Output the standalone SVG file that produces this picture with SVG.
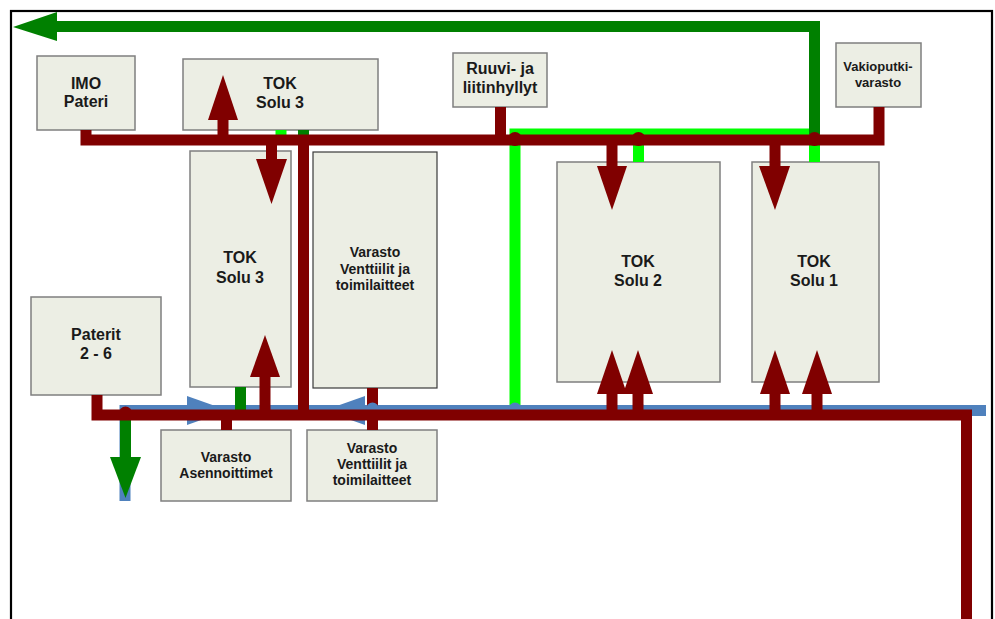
<svg xmlns="http://www.w3.org/2000/svg" width="995" height="619" viewBox="0 0 995 619">
<defs>
<style>
.box{fill:#eceee4;stroke:#7f7f7f;stroke-width:1.5}
.box2{fill:#eceee4;stroke:#3a3a3a;stroke-width:1.2}
text{font-family:"Liberation Sans",Arial,sans-serif;font-weight:bold;fill:#1a1a1a;text-anchor:middle}
.t16{font-size:16px}
.t14{font-size:14px}
.t13{font-size:13px}
.red{fill:none;stroke:#800000;stroke-width:11}
.redf{fill:#800000}
.grn{fill:none;stroke:#008000;stroke-width:11}
.grnf{fill:#008000}
.lg{fill:none;stroke:#00ff00;stroke-width:11}
.blu{fill:none;stroke:#4f81bd;stroke-width:11}
.bluf{fill:#4f81bd}
</style>
</defs>
<rect x="0" y="0" width="995" height="619" fill="#ffffff"/>
<rect x="11" y="11" width="981" height="620" fill="none" stroke="#000" stroke-width="2.2"/>

<g id="imo-pateri"><rect class="box" x="37" y="56" width="98" height="74"/><text class="t16" x="86" y="89">IMO</text><text class="t16" x="86" y="107">Pateri</text></g>
<g id="tok-solu3-top"><rect class="box" x="183" y="59" width="195" height="71"/><text class="t16" x="280" y="89">TOK</text><text class="t16" x="280" y="108">Solu 3</text></g>
<g id="ruuvi"><rect class="box" x="453" y="53" width="94" height="54"/><text class="t16" x="500" y="74">Ruuvi- ja</text><text class="t16" x="500" y="93">liitinhyllyt</text></g>
<g id="vakioputki"><rect class="box" x="836" y="43" width="85" height="64"/><text class="t13" x="878" y="71">Vakioputki-</text><text class="t13" x="878" y="87">varasto</text></g>
<g id="tok-solu3"><rect class="box" x="190" y="151" width="101" height="236"/><text class="t16" x="240" y="263">TOK</text><text class="t16" x="240" y="283">Solu 3</text></g>
<g id="varasto-venttiilit-top"><rect class="box2" x="313" y="152" width="124" height="236"/><text class="t14" x="375" y="257">Varasto</text><text class="t14" x="375" y="274">Venttiilit ja</text><text class="t14" x="375" y="290">toimilaitteet</text></g>
<g id="tok-solu2"><rect class="box" x="557" y="162" width="163" height="220"/><text class="t16" x="638" y="267">TOK</text><text class="t16" x="638" y="286">Solu 2</text></g>
<g id="tok-solu1"><rect class="box" x="752" y="162" width="127" height="220"/><text class="t16" x="814" y="267">TOK</text><text class="t16" x="814" y="286">Solu 1</text></g>
<g id="paterit"><rect class="box" x="31" y="297" width="130" height="98"/><text class="t16" x="96" y="340">Paterit</text><text class="t16" x="96" y="359">2 - 6</text></g>
<g id="varasto-asennoittimet"><rect class="box" x="161" y="430" width="130" height="71"/><text class="t14" x="226" y="462">Varasto</text><text class="t14" x="226" y="478">Asennoittimet</text></g>
<g id="varasto-venttiilit-bottom"><rect class="box" x="307" y="430" width="130" height="71"/><text class="t14" x="372" y="453">Varasto</text><text class="t14" x="372" y="469">Venttiilit ja</text><text class="t14" x="372" y="485">toimilaitteet</text></g>

<g id="connectors">
<!-- blue line -->
<path class="blu" d="M986 410.5 H125 V501"/>
<polygon class="bluf" points="187,396 228,410.5 187,425"/>
<polygon class="bluf" points="365,396 324,410.5 365,425"/>
<!-- light green -->
<path class="lg" d="M515 405 V134 H814.5 V162" stroke-linejoin="miter"/>
<path class="lg" d="M638.5 140 V162"/>
<path class="lg" d="M281 130 V140"/>
<!-- dark green -->
<path class="grn" d="M814.5 134 V26.5 H56" stroke-linejoin="miter"/>
<polygon class="grnf" points="57,12 13,27 57,41"/>
<path class="grn" d="M303.5 130 V140"/>
<path class="grn" d="M240.5 387 V415"/>
<path class="grn" d="M125.5 415 V458"/>
<polygon class="grnf" points="110,457 141,457 125.5,498"/>
<!-- red short connectors -->
<path class="red" d="M500.5 107 V140"/>
<path class="red" d="M226.5 415 V430"/>
<path class="red" d="M372.5 388 V430"/>
<!-- blue junction dots -->
<circle class="bluf" cx="372.5" cy="409" r="6.5"/>
<circle class="bluf" cx="515" cy="409" r="6.5"/>
<circle class="bluf" cx="638.5" cy="409" r="6.5"/>
<!-- red buses -->
<path class="red" d="M86 130 V140 H879 V107" stroke-width="12" stroke-linejoin="miter"/>
<path class="red" d="M97 395 V415 H966.5 V625" stroke-width="12" stroke-linejoin="miter"/>
<path class="red" d="M303.5 140 V415"/>
<!-- red arrows -->
<path class="red" d="M223 140 V118" stroke-width="10"/>
<polygon class="redf" points="208,120 238,120 223,75"/>
<path class="red" d="M271.5 140 V161" stroke-width="10"/>
<polygon class="redf" points="256,159 287,159 271.5,204"/>
<path class="red" d="M265 415 V375" stroke-width="10"/>
<polygon class="redf" points="250,377 280,377 265,335"/>
<path class="red" d="M612 140 V168" stroke-width="10"/>
<polygon class="redf" points="597,166 627,166 612,210"/>
<path class="red" d="M775 140 V168" stroke-width="10"/>
<polygon class="redf" points="759,166 790,166 775,210"/>
<path class="red" d="M612 415 V392" stroke-width="10"/>
<polygon class="redf" points="597,394 627,394 612,350"/>
<path class="red" d="M638 415 V392" stroke-width="10"/>
<polygon class="redf" points="623,394 653,394 638,350"/>
<path class="red" d="M775 415 V392" stroke-width="10"/>
<polygon class="redf" points="760,394 790,394 775,350"/>
<path class="red" d="M817 415 V392" stroke-width="10"/>
<polygon class="redf" points="802,394 832,394 817,350"/>
<!-- red junction dots -->
<circle class="redf" cx="515" cy="139" r="7"/>
<circle class="redf" cx="638.5" cy="139" r="7"/>
<circle class="redf" cx="814.5" cy="139" r="7"/>
<circle class="redf" cx="125.5" cy="413" r="6.5"/>
</g>
</svg>
